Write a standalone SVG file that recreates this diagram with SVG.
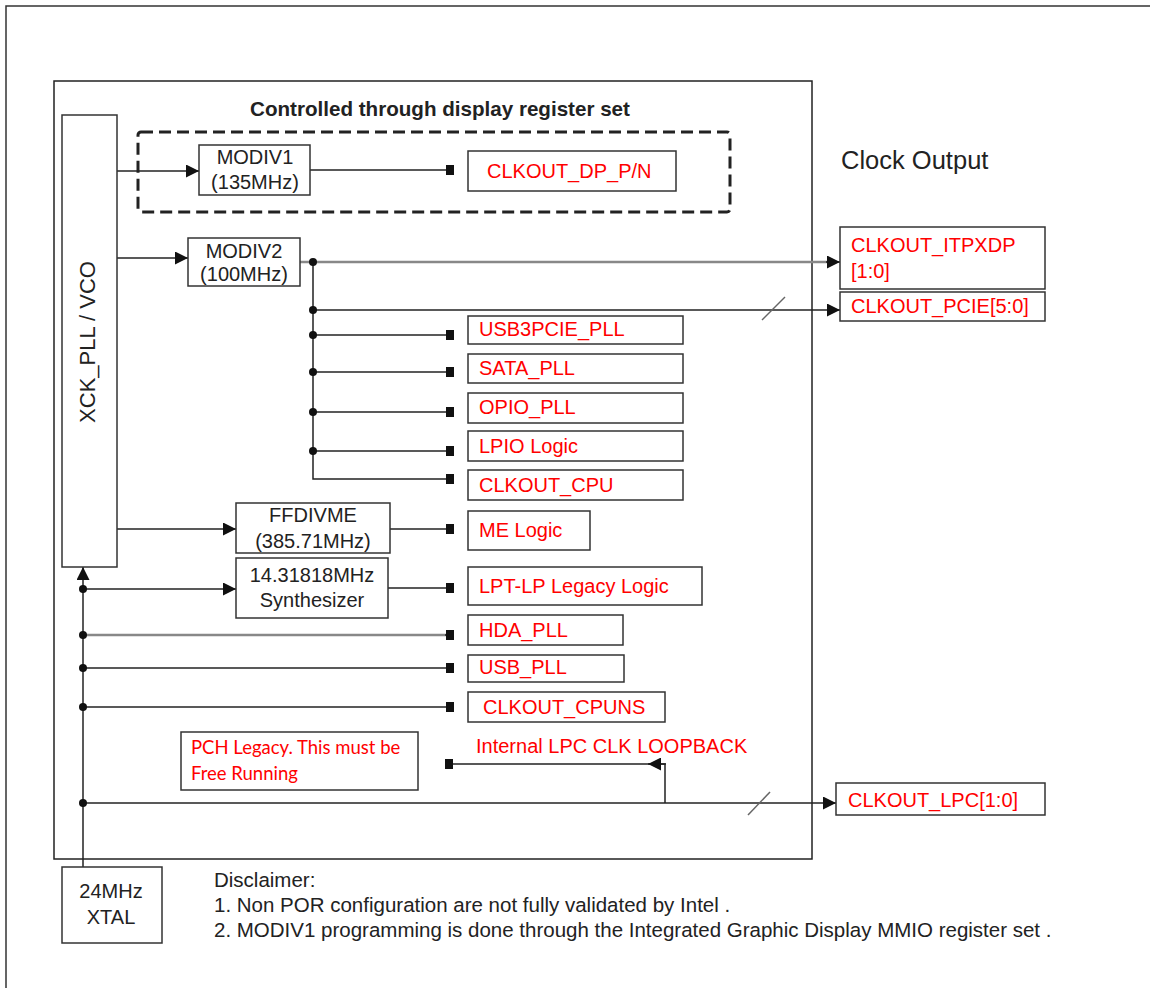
<svg xmlns="http://www.w3.org/2000/svg" width="1150" height="988" viewBox="0 0 1150 988">
  <style>
    .box { fill: #fff; stroke: #333; stroke-width: 1.5; }
    .lbl { font-family: "Liberation Sans", Arial, sans-serif; font-size: 20px; fill: #222; }
    .red { font-family: "Liberation Sans", Arial, sans-serif; font-size: 20px; fill: #ff0000; }
    .note { font-family: "Liberation Sans", Arial, sans-serif; font-size: 20.5px; fill: #222; }
    .mid { text-anchor: middle; }
    .wire { fill: none; stroke: #222; stroke-width: 1.5; }
    .grey { fill: none; stroke: #888; stroke-width: 2.5; }
    .slash { fill: none; stroke: #666; stroke-width: 1.5; }
    .dot { fill: #111; }
  </style>
  <defs>
    <marker id="arrow" viewBox="0 0 13 13" refX="13" refY="6.5" markerWidth="13" markerHeight="13" markerUnits="userSpaceOnUse" orient="auto">
      <path d="M0,0 L13,6.5 L0,13 z" fill="#111"/>
    </marker>
    <marker id="term" viewBox="0 0 8 10" refX="8" refY="5" markerWidth="8" markerHeight="10" markerUnits="userSpaceOnUse" orient="auto">
      <rect x="0" y="0" width="8" height="10" fill="#111"/>
    </marker>
  </defs>
  <rect width="1150" height="988" fill="#fff"/>

  <!-- page frame -->
  <path d="M6,988 V6 H1150" fill="none" stroke="#333" stroke-width="1.5"/>

  <!-- chip outline -->
  <g id="chip">
    <rect x="54" y="81" width="758" height="778" fill="none" stroke="#222" stroke-width="1.5"/>
    <text x="440" y="116" font-family="Liberation Sans, Arial, sans-serif" font-size="20.6" font-weight="bold" fill="#222" text-anchor="middle">Controlled through display register set</text>
  </g>

  <g id="display-region">
    <rect x="138" y="132" width="592" height="80" rx="3" fill="none" stroke="#222" stroke-width="3" stroke-dasharray="12 6"/>
  </g>

  <g id="clock-output-title">
    <text x="841" y="169" font-family="Liberation Sans, Arial, sans-serif" font-size="25.5" fill="#222">Clock Output</text>
  </g>

  <!-- connectors -->
  <g id="connectors">
    <path class="wire" d="M117,171 H199" marker-end="url(#arrow)"/>
    <path class="wire" d="M310,170 H454" marker-end="url(#term)"/>
    <path class="wire" d="M115,258 H188" marker-end="url(#arrow)"/>
    <path class="grey" d="M300,262 H828"/>
    <path class="wire" d="M826,262 H840" marker-end="url(#arrow)"/>
    <path class="wire" d="M313,262 V479 H454" marker-end="url(#term)"/>
    <path class="wire" d="M313,310 H840" marker-end="url(#arrow)"/>
    <path class="wire" d="M313,335 H454" marker-end="url(#term)"/>
    <path class="wire" d="M313,372 H454" marker-end="url(#term)"/>
    <path class="wire" d="M313,412 H454" marker-end="url(#term)"/>
    <path class="wire" d="M313,451 H454" marker-end="url(#term)"/>
    <path class="wire" d="M117,529 H236" marker-end="url(#arrow)"/>
    <path class="wire" d="M390,529 H454" marker-end="url(#term)"/>
    <path class="wire" d="M83,867 V567" marker-end="url(#arrow)"/>
    <path class="wire" d="M83,589 H236" marker-end="url(#arrow)"/>
    <path class="wire" d="M388,588 H454" marker-end="url(#term)"/>
    <path class="grey" d="M83,635 H447"/>
    <path class="wire" d="M445,635 H454" marker-end="url(#term)"/>
    <path class="wire" d="M83,668 H454" marker-end="url(#term)"/>
    <path class="wire" d="M83,707 H454" marker-end="url(#term)"/>
    <path class="wire" d="M83,803 H836" marker-end="url(#arrow)"/>
    <path class="wire" d="M665,803 V764 H445" marker-end="url(#term)"/>
    <path class="wire" d="M666,764 H648" marker-end="url(#arrow)"/>
    <path class="slash" d="M762,320 L785,297"/>
    <path class="slash" d="M748,815 L770,792"/>
    <circle class="dot" cx="313" cy="262" r="4"/>
    <circle class="dot" cx="313" cy="310" r="4"/>
    <circle class="dot" cx="313" cy="335" r="4"/>
    <circle class="dot" cx="313" cy="372" r="4"/>
    <circle class="dot" cx="313" cy="412" r="4"/>
    <circle class="dot" cx="313" cy="451" r="4"/>
    <circle class="dot" cx="83" cy="589" r="4"/>
    <circle class="dot" cx="83" cy="635" r="4"/>
    <circle class="dot" cx="83" cy="668" r="4"/>
    <circle class="dot" cx="83" cy="707" r="4"/>
    <circle class="dot" cx="83" cy="803" r="4"/>
  </g>

  <g id="xck-pll">
    <rect class="box" x="62" y="115" width="55" height="452"/>
    <text class="lbl mid" transform="translate(95,342) rotate(-90)" style="font-size:22px">XCK_PLL / VCO</text>
  </g>

  <g id="modiv1">
    <rect class="box" x="199" y="145" width="111" height="50"/>
    <text class="lbl mid" x="255" y="164">MODIV1</text>
    <text class="lbl mid" x="255" y="189">(135MHz)</text>
  </g>

  <g id="clkout-dp">
    <rect class="box" x="468" y="151" width="208" height="40"/>
    <text class="red" x="487" y="178">CLKOUT_DP_P/N</text>
  </g>

  <g id="modiv2">
    <rect class="box" x="188" y="238" width="112" height="48"/>
    <text class="lbl mid" x="244" y="258">MODIV2</text>
    <text class="lbl mid" x="244" y="281">(100MHz)</text>
  </g>

  <g id="clkout-itpxdp">
    <rect class="box" x="840" y="227" width="205" height="62"/>
    <text class="red" x="851" y="252">CLKOUT_ITPXDP</text>
    <text class="red" x="851" y="278">[1:0]</text>
  </g>

  <g id="clkout-pcie">
    <rect class="box" x="840" y="292" width="205" height="29"/>
    <text class="red" x="851" y="313">CLKOUT_PCIE[5:0]</text>
  </g>

  <g id="usb3pcie-pll">
    <rect class="box" x="468" y="316" width="215" height="28"/>
    <text class="red" x="479" y="336">USB3PCIE_PLL</text>
  </g>

  <g id="sata-pll">
    <rect class="box" x="468" y="354" width="215" height="29"/>
    <text class="red" x="479" y="375">SATA_PLL</text>
  </g>

  <g id="opio-pll">
    <rect class="box" x="468" y="393" width="215" height="30"/>
    <text class="red" x="479" y="414">OPIO_PLL</text>
  </g>

  <g id="lpio-logic">
    <rect class="box" x="468" y="431" width="215" height="30"/>
    <text class="red" x="479" y="453">LPIO Logic</text>
  </g>

  <g id="clkout-cpu">
    <rect class="box" x="468" y="470" width="215" height="30"/>
    <text class="red" x="479" y="492">CLKOUT_CPU</text>
  </g>

  <g id="ffdivme">
    <rect class="box" x="236" y="503" width="154" height="50"/>
    <text class="lbl mid" x="313" y="522">FFDIVME</text>
    <text class="lbl mid" x="313" y="548">(385.71MHz)</text>
  </g>

  <g id="me-logic">
    <rect class="box" x="468" y="511" width="122" height="39"/>
    <text class="red" x="479" y="537">ME Logic</text>
  </g>

  <g id="synthesizer">
    <rect class="box" x="236" y="558" width="152" height="60"/>
    <text class="lbl mid" x="312" y="582">14.31818MHz</text>
    <text class="lbl mid" x="312" y="607">Synthesizer</text>
  </g>

  <g id="lpt-lp-legacy">
    <rect class="box" x="468" y="567" width="234" height="38"/>
    <text class="red" x="479" y="593">LPT-LP Legacy Logic</text>
  </g>

  <g id="hda-pll">
    <rect class="box" x="468" y="615" width="155" height="30"/>
    <text class="red" x="479" y="637">HDA_PLL</text>
  </g>

  <g id="usb-pll">
    <rect class="box" x="468" y="655" width="156" height="27"/>
    <text class="red" x="479" y="674">USB_PLL</text>
  </g>

  <g id="clkout-cpuns">
    <rect class="box" x="468" y="692" width="197" height="30"/>
    <text class="red" x="483" y="714">CLKOUT_CPUNS</text>
  </g>

  <g id="lpc-loopback">
    <text class="red" x="476" y="753">Internal LPC CLK LOOPBACK</text>
  </g>

  <g id="pch-legacy-note">
    <rect class="box" x="181" y="732" width="237" height="58"/>
    <text x="191" y="754" font-family="Lato, 'Open Sans', sans-serif" font-size="18.5" fill="#ff0000">PCH Legacy. This must be</text>
    <text x="191" y="780" font-family="Lato, 'Open Sans', sans-serif" font-size="18.5" fill="#ff0000">Free Running</text>
  </g>

  <g id="clkout-lpc">
    <rect class="box" x="836" y="783" width="209" height="32"/>
    <text class="red" x="848" y="807">CLKOUT_LPC[1:0]</text>
  </g>

  <g id="xtal">
    <rect class="box" x="62" y="867" width="100" height="76"/>
    <text class="lbl mid" x="111" y="898">24MHz</text>
    <text class="lbl mid" x="111" y="924">XTAL</text>
  </g>

  <g id="disclaimer">
    <text class="note" x="214" y="887">Disclaimer:</text>
    <text class="note" x="214" y="912">1. Non POR configuration are not fully validated by Intel .</text>
    <text class="note" x="214" y="937">2. MODIV1 programming is done through the Integrated Graphic Display MMIO register set .</text>
  </g>
</svg>
